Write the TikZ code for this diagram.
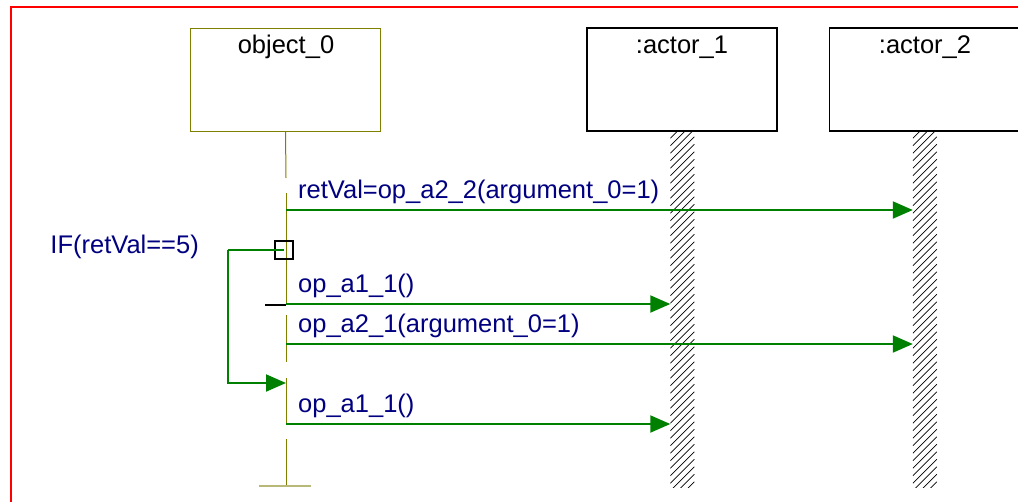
\documentclass[tikz,border=0pt]{standalone}
\usepackage{fontspec}
\setmainfont{Liberation Sans}
\usetikzlibrary{positioning,calc,arrows.meta}

\definecolor{msggreen}{RGB}{0,128,0}
\definecolor{lblblue}{RGB}{0,0,128}
\definecolor{objolive}{RGB}{128,128,0}
\definecolor{endolive}{RGB}{184,184,120}

\tikzset{
  objbox/.style={draw, line width=1.5pt, minimum width=190pt, minimum height=103pt, inner sep=0pt},
  boxtext/.style={anchor=base, inner sep=0pt, font=\fontsize{25.5}{30}\selectfont},
  hatchbar/.style={minimum width=24pt, minimum height=356pt, inner sep=0pt},
  hatchline/.style={line width=0.8pt},
  msg/.style={msggreen, line width=2pt, -{Triangle[length=20pt,width=17pt]}},
  msglabel/.style={anchor=base west, text=lblblue, inner sep=0pt, font=\fontsize{25.5}{30}\selectfont},
  lifeline/.style={objolive, line width=1pt},
}

\begin{document}
\begin{tikzpicture}[x=1pt,y=-1pt]
    \useasboundingbox (0,0) rectangle (1018,501);

    % Frame
    \draw[red, line width=2pt] (11,520) -- (11,7) -- (1030,7);

    % Actor bars
    \node[hatchbar] (bar1) at (682.5,309) {};
    \node[hatchbar] (bar2) at (925,309) {};
    \foreach \barname in {bar1,bar2}{
      \begin{scope}
        \clip (\barname.north west) rectangle (\barname.south east);
        \foreach \k in {0,...,52}
          \draw[hatchline] ($(\barname.north west)+(0,7.5*\k)$) -- ++(24,-24);
      \end{scope}
    }

    % Objects
    \node[objbox, draw=objolive, line width=1pt] (obj0) at (285.5,79.5) {};
    \node[objbox] (act1) at (682,79.5) {};
    \node[objbox] (act2) at (924.5,79.5) {};
    \node[boxtext] (obj0txt) at (286,53) {object\_0};
    \node[boxtext] (act1txt) at (682,53) {:actor\_1};
    \node[boxtext] (act2txt) at (925,53) {:actor\_2};

    % Lifeline of object_0
    \draw[lifeline] (obj0.south) -- (286,178);
    \draw[lifeline] (286,193) -- (286,305);
    \draw[lifeline] (286,315) -- (286,362);
    \draw[lifeline] (286,378) -- (286,424);
    \draw[lifeline] (286,439) -- (286,486);
    \coordinate (endl) at (259,486);
    \coordinate (endr) at (311,486);
    \draw[endolive, line width=2pt] (endl) -- (endr);

    % Messages
    \coordinate (m1) at (286,210);
    \coordinate (m2) at (286,304);
    \coordinate (m3) at (286,344);
    \coordinate (m4) at (286,424);
    \draw[msg] (m1) -- (m1 -| bar2.west);
    \draw[msg] (m2) -- (m2 -| bar1.west);
    \draw[msg] (m3) -- (m3 -| bar2.west);
    \draw[msg] (m4) -- (m4 -| bar1.west);
    \node[msglabel] (l1) at ($(m1)+(12,-12)$) {retVal=op\_a2\_2(argument\_0=1)};
    \node[msglabel] (l2) at ($(m2)+(12,-12)$) {op\_a1\_1()};
    \node[msglabel] (l3) at ($(m3)+(12,-12)$) {op\_a2\_1(argument\_0=1)};
    \node[msglabel] (l4) at ($(m4)+(12,-12)$) {op\_a1\_1()};

    % Tick before op_a1_1
    \coordinate (tick) at (265,305);
    \draw[line width=2pt] (tick) -- (tick -| obj0.south);

    % IF loop
    \node[draw, line width=1.5pt, minimum size=18pt, inner sep=0pt] (ifbox) at (284,250) {};
    \coordinate (ifleft) at (228,250);
    \coordinate (ifback) at (286,383);
    \draw[msggreen, line width=2pt] (ifbox.center) -- (ifleft);
    \draw[msg] (ifleft) |- (ifback);
    \node[msglabel, anchor=base east] (iflbl) at (199,253) {IF(retVal==5)};
\end{tikzpicture}
\end{document}
